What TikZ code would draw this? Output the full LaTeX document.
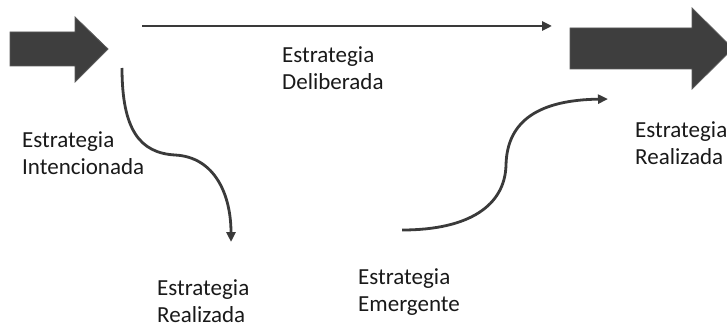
\documentclass[tikz,border=0pt]{standalone}
\usepackage{fontspec}
\setmainfont{Carlito}
\usepackage{xcolor}
\usepackage{tikz}
\usetikzlibrary{arrows.meta,positioning,calc}
\definecolor{clrFlow}{RGB}{58,58,58}
\definecolor{clrBlockfill}{RGB}{62,62,62}
\definecolor{clrBlockedge}{RGB}{90,90,90}
\definecolor{clrText}{RGB}{25,25,25}
\tikzset{
  figflow/.style={-{Triangle[length=10pt,width=9pt]}, line width=2.8pt, draw=clrFlow},
  blockarrow/.style={fill=clrBlockfill, draw=clrBlockedge, line width=0.8pt},
  labelnode/.style={anchor=base west, inner sep=0pt, align=left, text=clrText,
    font=\fontsize{23}{27}\selectfont}
}
\begin{document}
\begin{tikzpicture}[x=1pt, y=-1pt]
\useasboundingbox (0,0) rectangle (727,326);

% block arrows
\filldraw[blockarrow] (10,32) -- (75,32) -- (75,17) -- (108,49) -- (75,82) -- (75,66) -- (10,66) -- cycle;
\filldraw[blockarrow] (570,28) -- (692,28) -- (692,8) -- (733,48.5) -- (692,89) -- (692,69) -- (570,69) -- cycle;

% connector ends
\coordinate (delibStart) at (142,26);
\coordinate (delibEnd) at (552,26);
\coordinate (intenStart) at (122,68);
\coordinate (intenMid) at (175,155);
\coordinate (intenEnd) at (231,242);
\coordinate (emergStart) at (402,230);
\coordinate (emergMid) at (506,165);
\coordinate (emergEnd) at (608,99);

% labels (base sits one line below the first baseline)
\node[labelnode] (deliberada) at (282,89.5) {Estrategia\\Deliberada};
\node[labelnode] (intencionada) at (22,174) {Estrategia\\Intencionada};
\node[labelnode] (realizadaLow) at (157,322) {Estrategia\\Realizada};
\node[labelnode] (emergente) at (358,311) {Estrategia\\Emergente};
\node[labelnode] (realizadaHigh) at (635,164) {Estrategia\\Realizada};

% flows
\draw[figflow] (delibStart) -- (delibEnd);
\draw[figflow] (intenStart) .. controls (122,130) and (140,153) .. (intenMid)
  .. controls (215,157) and (231,195) .. (intenEnd);
\draw[figflow] (emergStart) .. controls (470,230) and (505,205) .. (emergMid)
  .. controls (507,120) and (540,100) .. (emergEnd);

\end{tikzpicture}
\end{document}
